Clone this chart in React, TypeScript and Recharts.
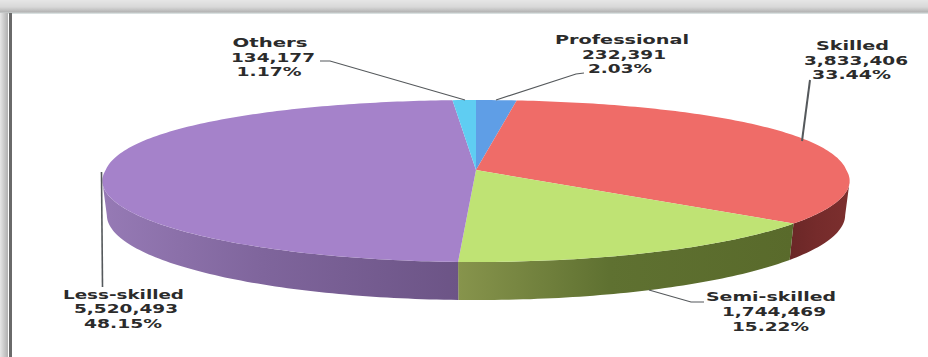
import { Pie, PieChart, Cell } from "recharts";

const WIDTH = 928;
const HEIGHT = 357;

const categories = ["Professional", "Skilled", "Semi-skilled", "Less-skilled", "Others"];
const workers = [232391, 3833406, 1744469, 5520493, 134177];
const shares = ["2.03%", "33.44%", "15.22%", "48.15%", "1.17%"];

const topColors = ["#5f9ee6", "#ef6c68", "#bfe374", "#a582ca", "#5fcdf2"];
const wallColors = [
  ["#3f6a9c", "#3f6a9c", "#3f6a9c"],
  ["#6a2727", "#752b2b", "#7c2f2e"],
  ["#87944c", "#5f7131", "#596a2b"],
  ["#967ab5", "#7f659c", "#6c5486"],
  ["#3b8aa6", "#3b8aa6", "#3b8aa6"],
];

const pieData = categories.map((name, i) => ({ name, value: workers[i], share: shares[i] }));

// label placement: [centre x, baseline y, stretched width] for each line, then the leader line
const labelLayout: Record<string, { lines: number[][]; leader: number[][]; leaderWidth: number }> = {
  Professional: {
    lines: [[622, 44, 134], [624, 59, 84], [620, 73, 64]],
    leader: [[584, 73], [576, 74], [496, 100]],
    leaderWidth: 1.2,
  },
  Skilled: {
    lines: [[852.5, 50, 73], [856, 65, 104], [851.5, 79, 79]],
    leader: [[810, 80], [802, 141]],
    leaderWidth: 2,
  },
  "Semi-skilled": {
    lines: [[771, 301, 130], [774, 316, 104], [770.5, 331, 77]],
    leader: [[649, 290], [691, 302], [704, 302]],
    leaderWidth: 1.2,
  },
  "Less-skilled": {
    lines: [[123.5, 299, 121], [126, 313, 104], [123, 328, 78]],
    leader: [[101.5, 172], [102.5, 287]],
    leaderWidth: 1.6,
  },
  Others: {
    lines: [[270, 47, 75], [273, 62, 84], [269, 76, 65]],
    leader: [[320, 61], [330, 61], [465, 100]],
    leaderWidth: 1.2,
  },
};

// tilted disc with a little perspective: the near side is drawn larger than the far side
const SQUASH = 0.2187;
const PERSPECTIVE = 0.136;
const FAR_ROUNDING = 0.9;
const WALL = 33.5;
const WALL_TAPER = 0.012;
const NEAR_LIMIT = 97.8;

function project(cx: number, cy: number, r: number, clock: number, drop = 0) {
  const a = (clock * Math.PI) / 180;
  const cos = Math.cos(a);
  const s = 1 - PERSPECTIVE * cos;
  const depth = cos > 0 ? Math.pow(cos, FAR_ROUNDING) : cos;
  const taper = drop > 0 ? 1 - WALL_TAPER : 1;
  return [cx + r * Math.sin(a) * s * taper, cy - r * SQUASH * depth * s + drop * s];
}

function arcPoints(cx: number, cy: number, r: number, from: number, to: number, drop = 0) {
  const steps = Math.max(2, Math.ceil(Math.abs(to - from)));
  const pts: number[][] = [];
  for (let i = 0; i <= steps; i++) {
    pts.push(project(cx, cy, r, from + ((to - from) * i) / steps, drop));
  }
  return pts;
}

const toPath = (pts: number[][]) => pts.map((p, i) => `${i ? "L" : "M"}${p[0].toFixed(2)} ${p[1].toFixed(2)}`).join(" ");

function DiscSlice(props: any) {
  const { cx, cy, outerRadius, startAngle, endAngle, index, fill } = props;
  // recharts angles run counter-clockwise from 3 o'clock, the disc is walked clockwise from 12
  const from = 90 - startAngle;
  const to = 90 - endAngle;
  const rim = arcPoints(cx, cy, outerRadius, from, to);
  const top = `${toPath([[cx, cy], ...rim])} Z`;

  const wallFrom = Math.max(from, NEAR_LIMIT);
  const wallTo = Math.min(to, 360 - NEAR_LIMIT);
  let wall = null;
  if (wallTo > wallFrom) {
    const upper = arcPoints(cx, cy, outerRadius, wallFrom, wallTo);
    const lower = arcPoints(cx, cy, outerRadius, wallFrom, wallTo, WALL).reverse();
    wall = <path d={`${toPath([...upper, ...lower])} Z`} fill={`url(#wall-${index})`} />;
  }
  return (
    <g>
      {wall}
      <path d={top} fill={fill} />
    </g>
  );
}

function SliceLabel(props: any) {
  const layout = labelLayout[props.name];
  const rows = [props.name, props.value.toLocaleString("en-US"), props.share];
  return (
    <g>
      <polyline
        points={layout.leader.map((p) => p.join(",")).join(" ")}
        fill="none"
        stroke="#55595c"
        strokeWidth={layout.leaderWidth}
      />
      {rows.map((row, i) => (
        <text
          key={row}
          x={layout.lines[i][0]}
          y={layout.lines[i][1]}
          textAnchor="middle"
          textLength={layout.lines[i][2]}
          lengthAdjust="spacingAndGlyphs"
          fontFamily="DejaVu Sans"
          fontWeight="bold"
          fontSize={12}
          fill="#2b2b2b"
        >
          {row}
        </text>
      ))}
    </g>
  );
}

export default function App() {
  return (
    <div style={{ position: "absolute", left: 0, top: 0, width: WIDTH, height: HEIGHT, background: "#fff", overflow: "hidden" }}>
      <div style={{ position: "absolute", left: 0, top: 0, width: WIDTH, height: 14, background: "linear-gradient(#e6e6e6, #d8d8d8 50%, #b4b4b4 85%, #e4eeee)" }} />
      <div style={{ position: "absolute", left: 0, top: 13, width: 8, height: HEIGHT - 13, background: "linear-gradient(90deg, #e6e6e6, #b0b0b0)" }} />
      <div style={{ position: "absolute", left: 9, top: 13, width: 3, height: HEIGHT - 13, background: "#6a6a6a" }} />
      <PieChart width={WIDTH} height={HEIGHT} style={{ position: "absolute", left: 0, top: 0 }} margin={{ top: 0, right: 0, bottom: 0, left: 0 }}>
        <defs>
          {wallColors.map((stops, i) => (
            <linearGradient key={i} id={`wall-${i}`} x1="0" y1="0" x2="1" y2="0">
              <stop offset="0%" stopColor={stops[0]} />
              <stop offset="45%" stopColor={stops[1]} />
              <stop offset="100%" stopColor={stops[2]} />
            </linearGradient>
          ))}
        </defs>
        <Pie
          data={pieData}
          dataKey="value"
          nameKey="name"
          cx={476}
          cy={170}
          outerRadius={370.3}
          startAngle={90}
          endAngle={-270}
          stroke="none"
          isAnimationActive={false}
          shape={DiscSlice}
          label={SliceLabel}
          labelLine={false}
        >
          {pieData.map((d, i) => (
            <Cell key={d.name} fill={topColors[i]} />
          ))}
        </Pie>
      </PieChart>
    </div>
  );
}
